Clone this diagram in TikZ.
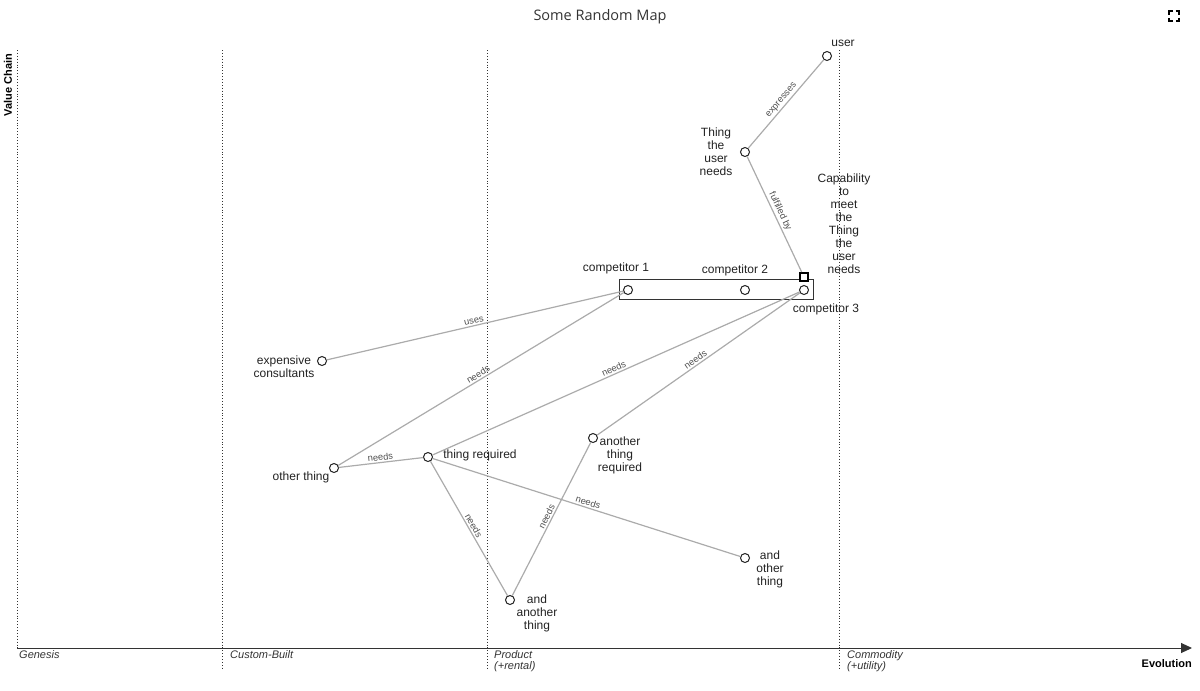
\documentclass[tikz,border=0pt]{standalone}
\usepackage{fontspec}
\setmainfont{Liberation Sans}
\newfontfamily\titlefont{Open Sans}
\usetikzlibrary{arrows.meta}
\definecolor{linkgray}{HTML}{ABABAB}
\definecolor{ink}{HTML}{222222}
\definecolor{axisgray}{HTML}{333333}
\definecolor{lblgray}{HTML}{505050}
\begin{document}
\begin{tikzpicture}[x=1pt,y=-1pt,
  comp/.style={circle, draw=ink, fill=white, line width=1pt, minimum size=9pt, inner sep=0pt},
  capbox/.style={rectangle, draw=black, fill=white, line width=1.6pt, minimum size=8.5pt, inner sep=0pt},
  link/.style={draw=linkgray, line width=1.2pt},
  elbl/.style={font=\fontsize{9.3}{10}\selectfont, text=lblgray, sloped, above, pos=0.5, inner sep=1.5pt},
  lbl/.style={font=\fontsize{12}{13}\selectfont, text=ink, align=center, inner sep=0pt},
  stage/.style={font=\fontsize{11}{11}\selectfont\itshape, text=axisgray, anchor=north west, align=left, inner sep=0pt},
  stageline/.style={draw=axisgray, line width=0.9pt, dotted}
]
\useasboundingbox (0,0) rectangle (1200,691);

% title and icon
\node[font=\titlefont\fontsize{14.5}{16}\selectfont, text=axisgray] (title) at (600,16.5) {Some Random Map};
\begin{scope}[line width=1.8pt, black]
  \draw (1169,14.5) -- (1169,11) -- (1172.5,11);
  \draw (1175.5,11) -- (1179,11) -- (1179,14.5);
  \draw (1179,17.5) -- (1179,21) -- (1175.5,21);
  \draw (1172.5,21) -- (1169,21) -- (1169,17.5);
\end{scope}

% axes and stages
\coordinate (yTop) at (17,50);
\coordinate (origin) at (17,648);
\coordinate (xEnd) at (1192,648);
\draw[stageline] (yTop) -- (origin);
\draw[draw=axisgray, line width=1pt, -{Triangle[length=11pt,width=10pt]}] (origin) -- (xEnd);
\draw[stageline] (222,50) -- (222,670);
\draw[stageline] (487,50) -- (487,670);
\draw[stageline] (839,50) -- (839,670);
\node[font=\fontsize{11}{11}\selectfont\bfseries, text=black, rotate=90] (vchain) at (8,85) {Value Chain};
\node[font=\fontsize{11}{11}\selectfont\bfseries, text=black, anchor=east, inner sep=0pt] (evo) at (1192,664) {Evolution};
\node[stage] (s1) at (19,650) {Genesis};
\node[stage] (s2) at (230,650) {Custom-Built};
\node[stage] (s3) at (494,650) {Product\\(+rental)};
\node[stage] (s4) at (847,650) {Commodity\\(+utility)};

% competitor box
\node[draw=axisgray, fill=white, line width=1pt, minimum width=194pt, minimum height=20pt, inner sep=0pt] (pipeline) at (716,289) {};

% components
\node[comp] (user) at (827,56) {};
\node[comp] (need) at (745,152) {};
\node[capbox] (cap) at (804,277) {};
\node[comp] (c1) at (628,290) {};
\node[comp] (c2) at (745,290) {};
\node[comp] (c3) at (804,290) {};
\node[comp] (cons) at (322,361) {};
\node[comp] (other) at (334,468) {};
\node[comp] (treq) at (428,457) {};
\node[comp] (atreq) at (593,438) {};
\node[comp] (aat) at (510,600) {};
\node[comp] (aot) at (745,558) {};

% links
\path[link] (user) -- node[elbl] (e1) {expresses} (need);
\path[link] (need) -- node[elbl] (e2) {fulfilled by} (cap);
\path[link] (c1) -- node[elbl] (e3) {uses} (cons);
\path[link] (c1) -- node[elbl] (e4) {needs} (other);
\path[link] (c3) -- node[elbl] (e5) {needs} (treq);
\path[link] (c3) -- node[elbl] (e6) {needs} (atreq);
\path[link] (other) -- node[elbl] (e7) {needs} (treq);
\path[link] (treq) -- node[elbl] (e8) {needs} (aat);
\path[link] (atreq) -- node[elbl] (e9) {needs} (aat);
\path[link] (treq) -- node[elbl] (e10) {needs} (aot);

% labels
\node[lbl] (luser) at (843,43) {user};
\node[lbl] (lneed) at (716,151.5) {Thing\\the\\user\\needs};
\node[lbl] (lcap) at (844,223.5) {Capability\\to\\meet\\the\\Thing\\the\\user\\needs};
\node[lbl] (lc1) at (616,268) {competitor 1};
\node[lbl] (lc2) at (735,270) {competitor 2};
\node[lbl] (lc3) at (826,309) {competitor 3};
\node[lbl] (lcons) at (284,366.5) {expensive\\consultants};
\node[lbl] (lother) at (301,477) {other thing};
\node[lbl] (ltreq) at (480,455) {thing required};
\node[lbl] (latreq) at (620,455.5) {another\\thing\\required};
\node[lbl] (laat) at (537,613) {and\\another\\thing};
\node[lbl] (laot) at (770,569) {and\\other\\thing};
\end{tikzpicture}
\end{document}
